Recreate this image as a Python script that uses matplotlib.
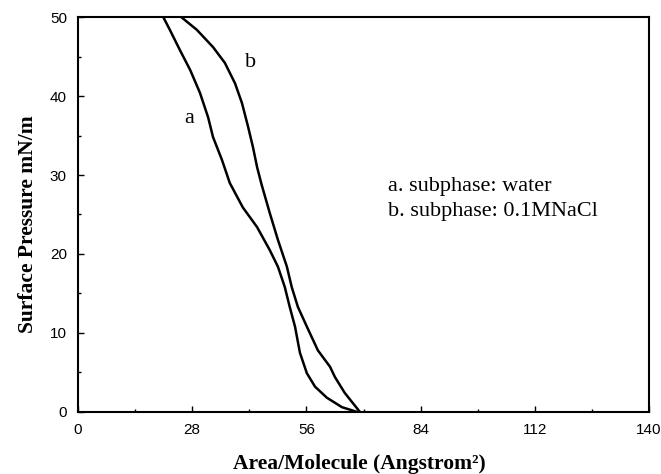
import numpy as np
import matplotlib
matplotlib.use("Agg")
import matplotlib.pyplot as plt
from matplotlib.ticker import MultipleLocator

# isotherm a: subphase water
area_a = [20.9, 22.5, 25.0, 27.5, 29.9, 31.9, 33.1, 35.3, 37.2, 40.4, 43.9, 47.0,
          49.0, 50.7, 51.9, 53.2, 54.4, 56.1, 58.1, 61.0, 64.7, 68.4]
pres_a = [50.0, 48.4, 45.8, 43.3, 40.4, 37.3, 34.8, 31.9, 29.0, 25.9, 23.4, 20.5,
          18.4, 15.8, 13.3, 10.8, 7.5, 4.9, 3.2, 1.8, 0.6, 0.0]

# isotherm b: subphase 0.1M NaCl
area_b = [25.3, 29.1, 33.1, 36.0, 38.5, 40.2, 41.7, 42.9, 43.9, 45.0, 47.0, 49.0,
          51.2, 52.4, 53.9, 56.1, 58.8, 61.8, 63.0, 65.4, 69.1]
pres_b = [50.0, 48.4, 46.2, 44.2, 41.6, 39.1, 36.1, 33.5, 31.0, 28.8, 25.2, 21.8,
          18.4, 15.8, 13.3, 10.8, 7.8, 5.7, 4.4, 2.4, 0.0]

xticks = [0, 28, 56, 84, 112, 140]
yticks = [0, 10, 20, 30, 40, 50]

serif = "Liberation Serif"
sans = "Liberation Sans"

fig = plt.figure(figsize=(6.61, 4.74), dpi=100)
ax = fig.add_axes([0.118, 0.131, 0.864, 0.833])

ax.plot(area_a, pres_a, color="black", lw=1.8)
ax.plot(area_b, pres_b, color="black", lw=1.8)

ax.set_xlim(0, 140)
ax.set_ylim(0, 50)
ax.set_xticks(xticks)
ax.set_yticks(yticks)
ax.xaxis.set_minor_locator(MultipleLocator(14))
ax.yaxis.set_minor_locator(MultipleLocator(5))
ax.tick_params(which="both", direction="in", top=False, right=False)
ax.tick_params(which="major", length=4, width=1, labelsize=11)
ax.tick_params(axis="x", which="major", pad=8)
ax.tick_params(axis="y", which="major", pad=8)
ax.tick_params(which="minor", length=2, width=1)
for lab in ax.get_xticklabels() + ax.get_yticklabels():
    lab.set_fontfamily(sans)
for s in ax.spines.values():
    s.set_linewidth(1.5)

ax.set_xlabel("Area/Molecule (Angstrom²)", fontfamily=serif, fontweight="bold",
              fontsize=15.5)
ax.set_ylabel("Surface Pressure mN/m", fontfamily=serif, fontweight="bold",
              fontsize=15.5)
ax.xaxis.set_label_coords(0.493, -0.107)
ax.yaxis.set_label_coords(-0.07, 0.475)

ax.text(27.2, 37.2, "a", fontfamily=serif, fontsize=16, ha="center", va="center")
ax.text(42.2, 44.3, "b", fontfamily=serif, fontsize=16, ha="center", va="center")
ax.text(76, 28.6, "a. subphase: water", fontfamily=serif, fontsize=16, va="center")
ax.text(76, 25.4, "b. subphase: 0.1MNaCl", fontfamily=serif, fontsize=16, va="center")

fig.savefig("out.png", dpi=100)
